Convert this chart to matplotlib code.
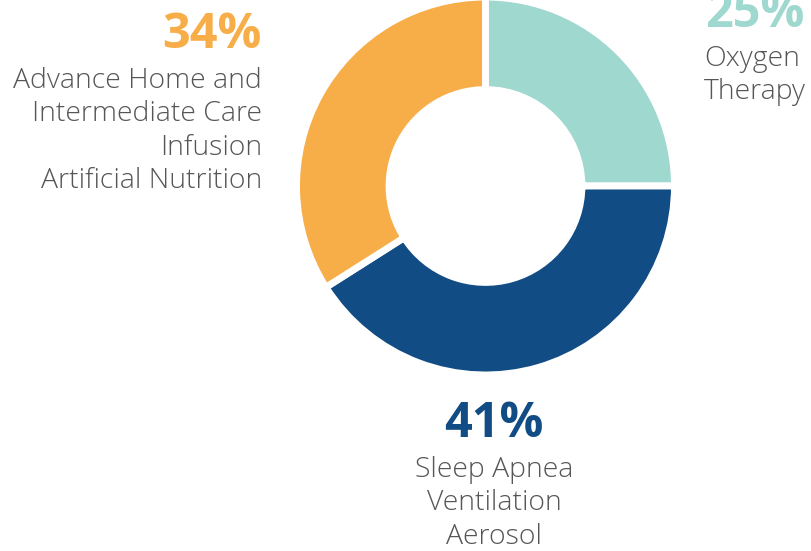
import matplotlib.pyplot as plt

# data
labels = ["Oxygen\nTherapy", "Sleep Apnea\nVentilation\nAerosol",
          "Advance Home and\nIntermediate Care\nInfusion\nArtificial Nutrition"]
shares = [25, 41, 34]
colors = ["#9FD8CF", "#114C85", "#F7AD48"]

plt.rcParams['font.family'] = ['Open Sans', 'DejaVu Sans']

W, H = 812, 551
fig = plt.figure(figsize=(W / 100, H / 100), dpi=100)
ax = fig.add_axes([0, 0, 1, 1])

cx, cy, r = 485.5, H - 186, 189
ax.pie(shares, colors=colors, startangle=90, counterclock=False,
       radius=r, center=(cx, cy),
       wedgeprops=dict(width=r * 0.49, edgecolor='white', linewidth=5))

ax.set_xlim(0, W)
ax.set_ylim(0, H)
ax.set_aspect('equal')
ax.axis('off')

grey = "#565656"
pct_size = 35
lab_size = 20.4
lsp = 1.26

# left label (orange)
ax.text(262, H - 48, f"{shares[2]}%", color=colors[2], fontsize=pct_size,
        fontweight='bold', ha='right', va='baseline')
ax.text(262, H - 67, labels[2], color=grey, fontsize=lab_size, fontweight='light',
        ha='right', va='top', linespacing=lsp, multialignment='right')

# right label (teal), partly off the top like the original
ax.text(705, H - 27, f"{shares[0]}%", color=colors[0], fontsize=pct_size,
        fontweight='bold', ha='left', va='baseline')
ax.text(704, H - 45, labels[0], color=grey, fontsize=lab_size, fontweight='light',
        ha='left', va='top', linespacing=lsp, multialignment='left')

# bottom label (blue)
ax.text(494, H - 456, labels[1], color=grey, fontsize=lab_size, fontweight='light',
        ha='center', va='top', linespacing=lsp, multialignment='center')
ax.text(494, H - 437, f"{shares[1]}%", color=colors[1], fontsize=pct_size,
        fontweight='bold', ha='center', va='baseline')

fig.savefig("out.png", dpi=100)
